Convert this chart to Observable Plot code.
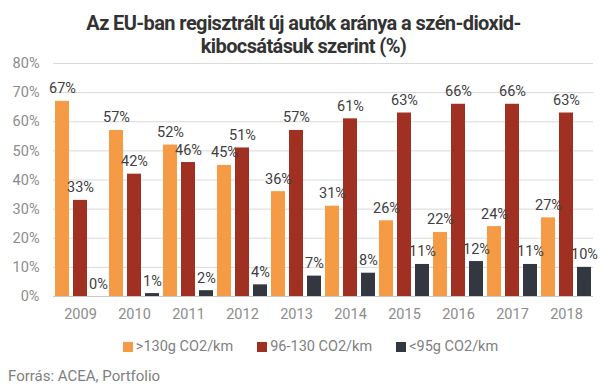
<!DOCTYPE html>
<html>
<head>
<meta charset="utf-8">
<script src="https://cdn.jsdelivr.net/npm/d3@7"></script>
<script src="https://cdn.jsdelivr.net/npm/@observablehq/plot@0.6"></script>
<style>
  body { margin: 0; background: #fff; width: 607px; height: 390px; overflow: hidden; font-family: Roboto, sans-serif; position: relative; }
  #title { height: 56px; padding-top: 12px; box-sizing: border-box; text-align: center; font-weight: bold; font-size: 20px; line-height: 23px; color: #333; letter-spacing: -0.6px; white-space: nowrap; }
  #chart svg { display: block; overflow: visible; }
  #legend { position: absolute; left: 0; right: 0; top: 338px; display: flex; justify-content: center; gap: 24px; padding-left: 14px; font-size: 14.5px; color: #7f7f7f; }
  #legend .item { display: flex; align-items: center; gap: 3px; }
  #legend .sw { width: 10px; height: 10px; display: inline-block; }
  #caption { position: absolute; left: 8px; top: 367px; font-size: 15px; color: #7f7f7f; }
</style>
</head>
<body>
<div id="title">Az EU-ban regisztrált új autók aránya a szén-dioxid-<br>kibocsátásuk szerint (%)</div>
<div id="chart"></div>
<div id="legend"></div>
<div id="caption">Forrás: ACEA, Portfolio</div>
<script>
const years = ["2009","2010","2011","2012","2013","2014","2015","2016","2017","2018"];
const seriesNames = [">130g CO2/km", "96-130 CO2/km", "<95g CO2/km"];
const colors = ["#F59B45", "#A03122", "#33373F"];
const over130 = [67,57,52,45,36,31,26,22,24,27];
const mid96_130 = [33,42,46,51,57,61,63,66,66,63];
const under95 = [0,1,2,4,7,8,11,12,11,10];
const yTicks = [0,10,20,30,40,50,60,70,80];

const seriesValues = [over130, mid96_130, under95];
const data = [];
years.forEach((y, i) => {
  seriesNames.forEach((s, j) => data.push({year: y, series: s, value: seriesValues[j][i]}));
});

const plot = Plot.plot({
  width: 607,
  height: 270,
  marginLeft: 50,
  marginRight: 12,
  marginTop: 7,
  marginBottom: 30,
  style: {fontFamily: "Roboto, sans-serif", fontSize: "14.5px", color: "#8c8c8c", background: "transparent", overflow: "visible"},
  fx: {domain: years, padding: 0, axis: "bottom", label: null, tickSize: 0, tickPadding: 12},
  x: {domain: seriesNames, axis: null, paddingInner: 0.2, paddingOuter: 0.1},
  y: {domain: [0, 80], ticks: yTicks, tickFormat: d => d + "%", tickSize: 0, tickPadding: 14, label: null},
  color: {domain: seriesNames, range: colors},
  marks: [
    Plot.gridY(yTicks, {stroke: "#d9d9d9", strokeOpacity: 1}),
    Plot.ruleY([0], {stroke: "#c8c8c8"}),
    Plot.barY(data, {fx: "year", x: "series", y: "value", fill: "series"}),
    Plot.text(data, {fx: "year", x: "series", y: "value", text: d => d.value + "%", dy: -8, lineAnchor: "bottom", fill: "#404040", fontSize: 14.5})
  ]
});
document.getElementById("chart").appendChild(plot);

const legend = document.getElementById("legend");
seriesNames.forEach((s, i) => {
  const it = document.createElement("div");
  it.className = "item";
  const sw = document.createElement("span");
  sw.className = "sw";
  sw.style.background = colors[i];
  const tx = document.createElement("span");
  tx.textContent = s;
  it.appendChild(sw); it.appendChild(tx);
  legend.appendChild(it);
});
</script>
</body>
</html>
